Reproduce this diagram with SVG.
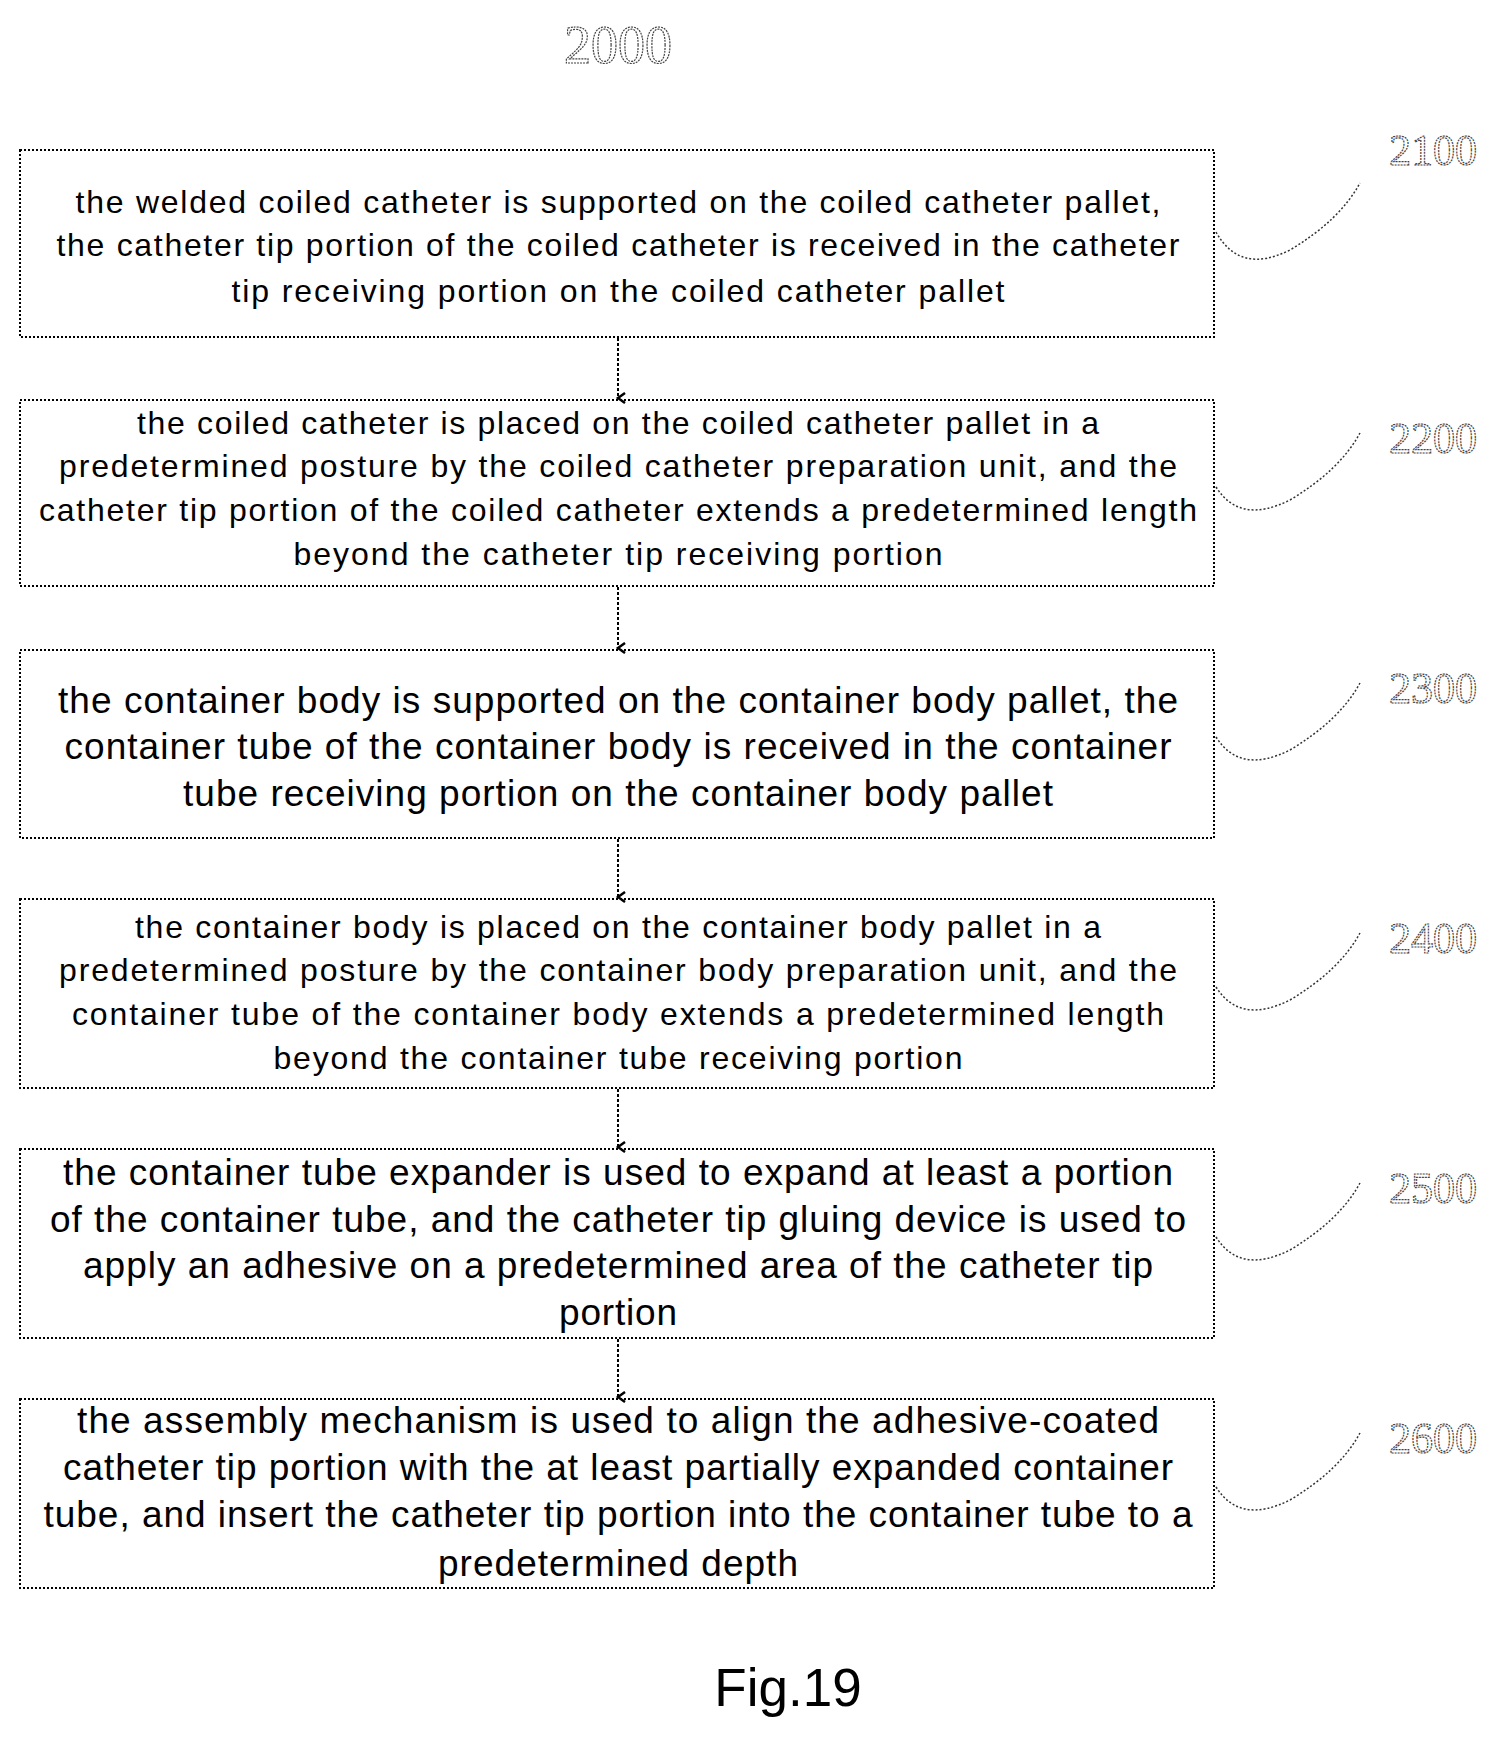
<svg xmlns="http://www.w3.org/2000/svg" width="1499" height="1737" viewBox="0 0 1499 1737">
<style>
.box{fill:none;stroke:#000;stroke-width:2;stroke-dasharray:2 2}
.t{font-family:"Liberation Sans",Arial,sans-serif;text-anchor:middle;fill:#000}
.s{font-size:32px}.l{font-size:37px}
.num{font-family:"Liberation Serif",serif;font-size:44px;fill:#fff;stroke:#444;stroke-width:1.2;stroke-dasharray:2 1;text-anchor:middle}
.lead{fill:none;stroke:#333;stroke-width:1.5;stroke-dasharray:2 2}
.con{stroke:#000;stroke-width:2;stroke-dasharray:3 2;fill:none}
</style>
<defs><marker id="a" markerWidth="12" markerHeight="12" refX="6" refY="9" orient="auto" markerUnits="userSpaceOnUse"><path d="M1,2 L6,9 L11,2" fill="none" stroke="#000" stroke-width="2.5"/></marker></defs>
<text class="num" x="618" y="63" style="font-size:54px">2000</text>
<g id="n2100"><rect class="box" x="20" y="150" width="1194" height="187"/>
<text class="t s" x="618" y="213" textLength="1085" lengthAdjust="spacing">the welded coiled catheter is supported on the coiled catheter pallet,</text>
<text class="t s" x="618" y="256" textLength="1123" lengthAdjust="spacing">the catheter tip portion of the coiled catheter is received in the catheter</text>
<text class="t s" x="618" y="302" textLength="773" lengthAdjust="spacing">tip receiving portion  on the coiled catheter pallet</text>
<text class="num" x="1433" y="165">2100</text><path class="lead" d="M1216,232 Q1240,275 1290,250 Q1340,220 1360,183"/></g>
<g id="n2200"><rect class="box" x="20" y="400" width="1194" height="186"/>
<text class="t s" x="618" y="434" textLength="962" lengthAdjust="spacing">the coiled catheter is placed on the coiled catheter pallet in a</text>
<text class="t s" x="618" y="477" textLength="1118" lengthAdjust="spacing">predetermined posture by the coiled catheter preparation unit, and the</text>
<text class="t s" x="618" y="521" textLength="1158" lengthAdjust="spacing">catheter tip portion of the coiled catheter extends a predetermined length</text>
<text class="t s" x="618" y="565" textLength="649" lengthAdjust="spacing">beyond  the catheter tip receiving portion</text>
<text class="num" x="1433" y="453">2200</text><path class="lead" d="M1216,487 Q1240,525 1290,500 Q1340,470 1360,433"/></g>
<g id="n2300"><rect class="box" x="20" y="650" width="1194" height="188"/>
<text class="t l" x="618" y="713" textLength="1120" lengthAdjust="spacing">the container body is supported on the container body pallet, the</text>
<text class="t l" x="618" y="759" textLength="1107" lengthAdjust="spacing">container tube of the container body is received in the container</text>
<text class="t l" x="618" y="806" textLength="870" lengthAdjust="spacing">tube receiving portion on the container body pallet</text>
<text class="num" x="1433" y="703">2300</text><path class="lead" d="M1216,737 Q1240,775 1290,750 Q1340,720 1360,683"/></g>
<g id="n2400"><rect class="box" x="20" y="899" width="1194" height="189"/>
<text class="t s" x="618" y="938" textLength="966" lengthAdjust="spacing">the container body is placed on the container body pallet in a</text>
<text class="t s" x="618" y="981" textLength="1118" lengthAdjust="spacing">predetermined posture by the container body preparation unit, and the</text>
<text class="t s" x="618" y="1025" textLength="1092" lengthAdjust="spacing">container tube of the container body extends a predetermined length</text>
<text class="t s" x="618" y="1069" textLength="689" lengthAdjust="spacing">beyond the container tube receiving portion</text>
<text class="num" x="1433" y="953">2400</text><path class="lead" d="M1216,987 Q1240,1025 1290,1000 Q1340,970 1360,933"/></g>
<g id="n2500"><rect class="box" x="20" y="1149" width="1194" height="189"/>
<text class="t l" x="618" y="1185" textLength="1110" lengthAdjust="spacing">the container tube expander is used to expand at least a portion</text>
<text class="t l" x="618" y="1232" textLength="1136" lengthAdjust="spacing">of the container tube, and the catheter tip gluing device is used to</text>
<text class="t l" x="618" y="1278" textLength="1070" lengthAdjust="spacing">apply an adhesive on a predetermined area of the catheter tip</text>
<text class="t l" x="618" y="1325" textLength="118" lengthAdjust="spacing">portion</text>
<text class="num" x="1433" y="1203">2500</text><path class="lead" d="M1216,1237 Q1240,1275 1290,1250 Q1340,1220 1360,1183"/></g>
<g id="n2600"><rect class="box" x="20" y="1399" width="1194" height="189"/>
<text class="t l" x="618" y="1433" textLength="1082" lengthAdjust="spacing">the assembly mechanism is used to align the adhesive-coated</text>
<text class="t l" x="618" y="1480" textLength="1110" lengthAdjust="spacing">catheter tip portion with the at least partially expanded container</text>
<text class="t l" x="618" y="1527" textLength="1149" lengthAdjust="spacing">tube, and insert the catheter tip portion into the container tube to a</text>
<text class="t l" x="618" y="1576" textLength="360" lengthAdjust="spacing">predetermined depth</text>
<text class="num" x="1433" y="1453">2600</text><path class="lead" d="M1216,1487 Q1240,1525 1290,1500 Q1340,1470 1360,1433"/></g>
<g id="connectors">
<line class="con" x1="618" y1="338" x2="618" y2="398" marker-end="url(#a)"/>
<line class="con" x1="618" y1="587" x2="618" y2="648" marker-end="url(#a)"/>
<line class="con" x1="618" y1="839" x2="618" y2="897" marker-end="url(#a)"/>
<line class="con" x1="618" y1="1089" x2="618" y2="1147" marker-end="url(#a)"/>
<line class="con" x1="618" y1="1339" x2="618" y2="1397" marker-end="url(#a)"/>
</g>
<text class="t" x="788" y="1706" style="font-size:53px">Fig.19</text>
</svg>
